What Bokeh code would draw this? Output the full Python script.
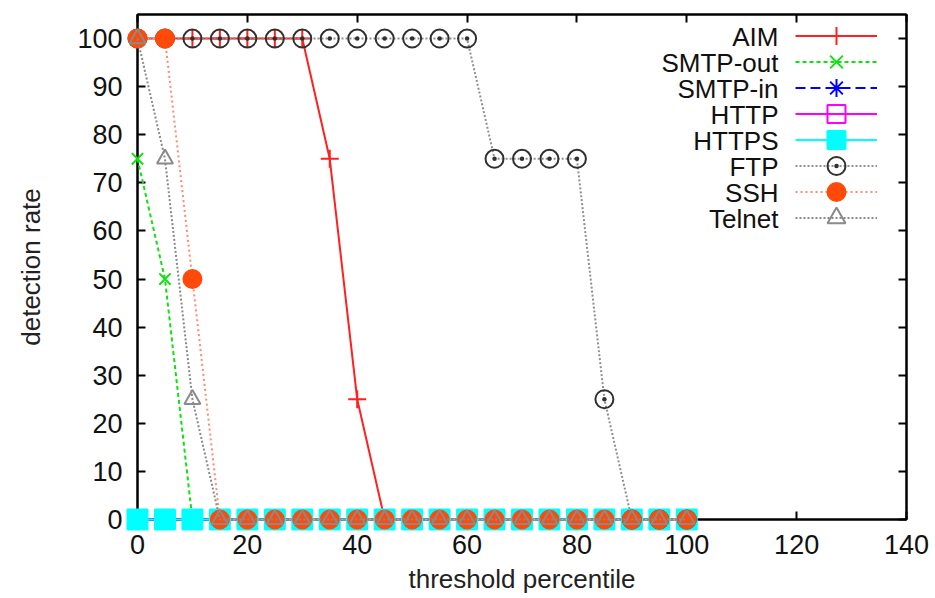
from bokeh.plotting import figure
from bokeh.models import (Range1d, FixedTicker, LinearAxis, Legend, LegendItem,
                          Label, CustomJSTickFormatter)
from bokeh.embed import file_html
from bokeh.resources import INLINE

# ---- data -------------------------------------------------------------
thresholds = [0, 5, 10, 15, 20, 25, 30, 35, 40, 45, 50, 55, 60, 65, 70, 75, 80, 85, 90, 95, 100]
aim      = [100, 100, 100, 100, 100, 100, 100, 75, 25, 0, 0, 0, 0, 0, 0, 0, 0, 0, 0, 0, 0]
smtp_out = [75, 50, 0, 0, 0, 0, 0, 0, 0, 0, 0, 0, 0, 0, 0, 0, 0, 0, 0, 0, 0]
smtp_in  = [0, 0, 0, 0, 0, 0, 0, 0, 0, 0, 0, 0, 0, 0, 0, 0, 0, 0, 0, 0, 0]
http     = [0, 0, 0, 0, 0, 0, 0, 0, 0, 0, 0, 0, 0, 0, 0, 0, 0, 0, 0, 0, 0]
https    = [0, 0, 0, 0, 0, 0, 0, 0, 0, 0, 0, 0, 0, 0, 0, 0, 0, 0, 0, 0, 0]
ftp      = [100, 100, 100, 100, 100, 100, 100, 100, 100, 100, 100, 100, 100, 75, 75, 75, 75, 25, 0, 0, 0]
ssh      = [100, 100, 50, 0, 0, 0, 0, 0, 0, 0, 0, 0, 0, 0, 0, 0, 0, 0, 0, 0, 0]
telnet   = [100, 75, 25, 0, 0, 0, 0, 0, 0, 0, 0, 0, 0, 0, 0, 0, 0, 0, 0, 0, 0]

series_names = ["AIM", "SMTP-out", "SMTP-in", "HTTP", "HTTPS", "FTP", "SSH", "Telnet"]
series_values = [aim, smtp_out, smtp_in, http, https, ftp, ssh, telnet]

x_ticks = [0, 20, 40, 60, 80, 100, 120, 140]
y_ticks = [0, 10, 20, 30, 40, 50, 60, 70, 80, 90, 100]
x_label = "threshold percentile"
y_label = "detection rate"

# ---- styles -----------------------------------------------------------
styles = [
    dict(line_color="#ff2020", dash="solid", marker="cross", mcolor="#ff2020", fill=None, size=18),
    dict(line_color="#10e010", dash="4 3", marker="x", mcolor="#10e010", fill=None, size=16),
    dict(line_color="#0000ff", dash="10 5", marker="asterisk", mcolor="#0000ff", fill=None, size=16),
    dict(line_color="#ff00ff", dash="solid", marker="square", mcolor="#ff00ff", fill=None, size=18),
    dict(line_color="#00ffff", dash="solid", marker="square", mcolor="#00ffff", fill="#00ffff", size=20),
    dict(line_color="#909090", dash="2 2", marker="circle_dot", mcolor="#303030", fill=None, size=18),
    dict(line_color="#ff8a70", dash="2 3", marker="circle", mcolor="#ff4a0a", fill="#ff4a0a", size=18),
    dict(line_color="#8a8a8a", dash="2 2", marker="triangle", mcolor="#8a8a8a", fill=None, size=16),
]

FONT = "Liberation Sans"

p = figure(width=935, height=598, output_backend="svg", toolbar_location=None,
           x_range=Range1d(0, 140), y_range=Range1d(0, 105),
           min_border_left=137, min_border_right=29, min_border_top=14, min_border_bottom=79)
p.xgrid.visible = False
p.ygrid.visible = False
p.outline_line_color = "black"
p.outline_line_width = 2
p.background_fill_color = "white"
p.border_fill_color = "white"

# main axes
xa = p.below[0]
ya = p.left[0]
xa.ticker = FixedTicker(ticks=x_ticks)
ya.ticker = FixedTicker(ticks=y_ticks)
xa.axis_label = x_label
ya.axis_label = y_label

top = LinearAxis(ticker=FixedTicker(ticks=x_ticks), formatter=CustomJSTickFormatter(code="return ''"))
right = LinearAxis(ticker=FixedTicker(ticks=y_ticks), formatter=CustomJSTickFormatter(code="return ''"))
p.add_layout(top, "above")
p.add_layout(right, "right")

for ax in [xa, ya, top, right]:
    ax.major_tick_in = 8
    ax.major_tick_out = 0
    ax.major_tick_line_width = 2
    ax.major_tick_line_color = "black"
    ax.minor_tick_line_color = None
    ax.axis_line_width = 2
    ax.axis_line_color = "black"
    ax.major_label_text_font = FONT
    ax.major_label_text_font_size = "27px"
    ax.major_label_text_color = "#111111"
    ax.axis_label_text_font = FONT
    ax.axis_label_text_font_size = "26px"
    ax.axis_label_text_font_style = "normal"
    ax.axis_label_text_color = "#222222"

xa.major_label_standoff = 15
xa.axis_label_standoff = 7
ya.major_label_standoff = 15
ya.axis_label_standoff = 28

# ---- series -----------------------------------------------------------
legend_renderers = []
for name, vals, st in zip(series_names, series_values, styles):
    lr = p.line(thresholds, vals, line_color=st["line_color"], line_width=2,
                line_dash=st["dash"], level="overlay")
    sr = p.scatter(thresholds, vals, marker=st["marker"], size=st["size"],
                   line_color=st["mcolor"], line_width=2,
                   fill_color=st["fill"], level="overlay")
    legend_renderers.append((name, lr, sr))

# ---- legend: samples via Legend, text right-aligned on the left ----------
row_pitch = 26
first_row = 483  # frame-relative, from the bottom
for i, (name, lr, sr) in enumerate(legend_renderers):
    cy = first_row - row_pitch * i
    lg = Legend(items=[LegendItem(label="", renderers=[lr, sr])],
                location=(658, cy - 22), glyph_width=82, glyph_height=45,
                label_width=0, label_standoff=0, label_height=45,
                padding=0, margin=0, spacing=0,
                border_line_color=None, background_fill_alpha=0)
    p.add_layout(lg)
    p.add_layout(Label(x=641, y=cy, x_units="screen", y_units="screen", text=name,
                       text_align="right", text_baseline="middle",
                       text_font=FONT, text_font_size="26px", text_color="#111111"))

open("out.html", "w").write(file_html(p, INLINE))
